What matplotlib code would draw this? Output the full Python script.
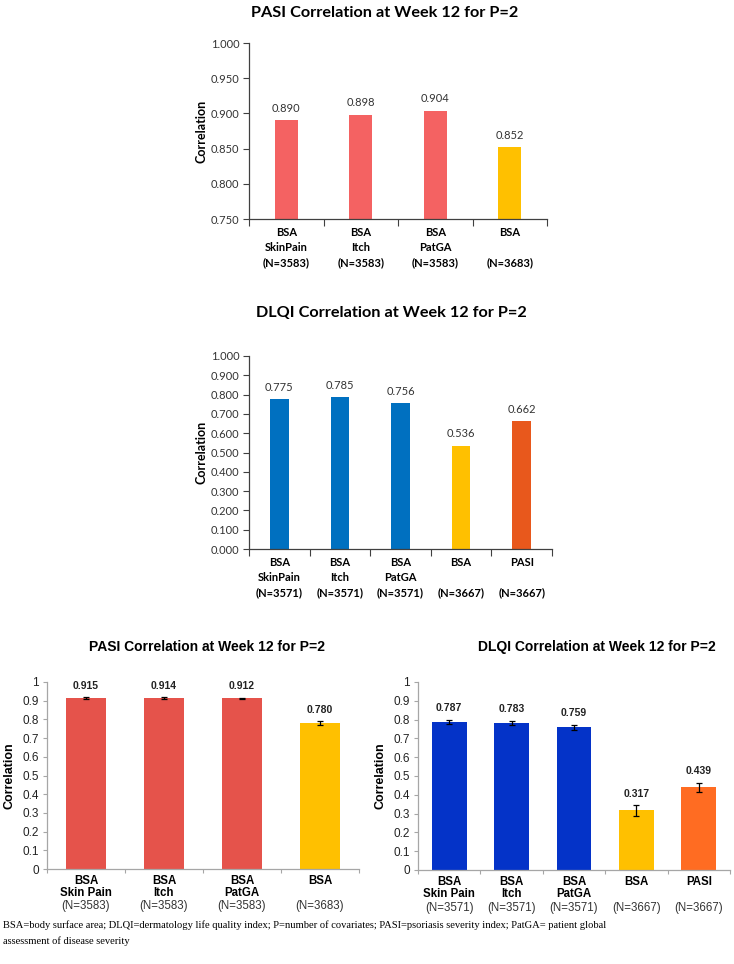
import numpy as np
import matplotlib
matplotlib.use("Agg")
import matplotlib.pyplot as plt
from matplotlib.ticker import FixedLocator, MultipleLocator, FormatStrFormatter

# panel 1: PASI correlation (top)
pasi1_labels = ["BSA\nSkinPain\n(N=3583)", "BSA\nItch\n(N=3583)", "BSA\nPatGA\n(N=3583)", "BSA\n\n(N=3683)"]
pasi1_vals = [0.890, 0.898, 0.904, 0.852]
pasi1_cols = ["#F46262", "#F46262", "#F46262", "#FFC000"]

# panel 2: DLQI correlation (top)
dlqi1_labels = ["BSA\nSkinPain\n(N=3571)", "BSA\nItch\n(N=3571)", "BSA\nPatGA\n(N=3571)",
                "BSA\n\n(N=3667)", "PASI\n\n(N=3667)"]
dlqi1_vals = [0.775, 0.785, 0.756, 0.536, 0.662]
dlqi1_cols = ["#0070C0", "#0070C0", "#0070C0", "#FFC000", "#E8581C"]

# panel 3: PASI correlation (bottom left)
pasi2_names = ["BSA\nSkin Pain", "BSA\nItch", "BSA\nPatGA", "BSA"]
pasi2_n = ["(N=3583)", "(N=3583)", "(N=3583)", "(N=3683)"]
pasi2_vals = [0.915, 0.914, 0.912, 0.780]
pasi2_err = [0.004, 0.004, 0.004, 0.011]
pasi2_cols = ["#E5534B", "#E5534B", "#E5534B", "#FFC000"]

# panel 4: DLQI correlation (bottom right)
dlqi2_names = ["BSA\nSkin Pain", "BSA\nItch", "BSA\nPatGA", "BSA", "PASI"]
dlqi2_n = ["(N=3571)", "(N=3571)", "(N=3571)", "(N=3667)", "(N=3667)"]
dlqi2_vals = [0.787, 0.783, 0.759, 0.317, 0.439]
dlqi2_err = [0.013, 0.012, 0.013, 0.028, 0.025]
dlqi2_cols = ["#0433C8", "#0433C8", "#0433C8", "#FFC000", "#FF6C22"]

yticks_bottom = [0, 0.1, 0.2, 0.3, 0.4, 0.5, 0.6, 0.7, 0.8, 0.9, 1]
ylabels_bottom = ["0", "0.1", "0.2", "0.3", "0.4", "0.5", "0.6", "0.7", "0.8", "0.9", "1"]

footnote = ("BSA=body surface area; DLQI=dermatology life quality index; P=number of covariates; "
            "PASI=psoriasis severity index; PatGA= patient global\nassessment of disease severity")

W, H = 734, 964
fig = plt.figure(figsize=(W / 100, H / 100), dpi=100)


def add_ax(l, t, r, b):
    return fig.add_axes([l / W, 1 - b / H, (r - l) / W, (b - t) / H])


def px2pt(p):
    return p * 72 / 100


def top_chart(ax, labels, vals, cols, ylim, step, title, tcx, tcy):
    x = np.arange(len(vals))
    ax.bar(x, np.array(vals) - ylim[0], bottom=ylim[0], width=0.31, color=cols)
    ax.set_xlim(-0.5, len(vals) - 0.5)
    ax.set_ylim(*ylim)
    for s in ["top", "right"]:
        ax.spines[s].set_visible(False)
    for s in ["left", "bottom"]:
        ax.spines[s].set_color("#404040")
        ax.spines[s].set_linewidth(0.9)
    ax.yaxis.set_major_locator(MultipleLocator(step))
    ax.yaxis.set_major_formatter(FormatStrFormatter("%.3f"))
    ax.tick_params(axis="y", direction="out", length=4, width=0.8, color="#404040",
                   labelsize=8, labelcolor="#333333", pad=3)
    ax.set_xticks(x)
    ax.set_xticklabels(labels, fontweight="bold", fontsize=8, linespacing=1.45)
    ax.tick_params(axis="x", which="major", length=0, pad=6)
    ax.xaxis.set_minor_locator(FixedLocator(np.arange(len(vals) + 1) - 0.5))
    ax.tick_params(axis="x", which="minor", direction="out", length=5, width=0.8, color="#404040")
    for xi, v in zip(x, vals):
        ax.annotate(f"{v:.3f}", (xi, v), xytext=(0, px2pt(12)), textcoords="offset points",
                    ha="center", va="center", fontsize=8, color="#333333")
    ax.set_ylabel("Correlation", fontweight="bold", fontsize=9, labelpad=2)
    fig.text(tcx / W, 1 - tcy / H, title, ha="center", va="center", fontsize=11.7,
             fontweight="bold", family="Lato")


def bottom_chart(ax, names, ns, vals, errs, cols, bw, title, tcx, tcy):
    x = np.arange(len(vals))
    ax.bar(x, vals, width=bw, color=cols)
    ax.errorbar(x, vals, yerr=errs, fmt="none", ecolor="black", elinewidth=0.9,
                capsize=2.5, capthick=0.9)
    ax.set_xlim(-0.5, len(vals) - 0.5)
    ax.set_ylim(0, 1)
    for s in ["top", "right"]:
        ax.spines[s].set_visible(False)
    for s in ["left", "bottom"]:
        ax.spines[s].set_color("#A6A6A6")
        ax.spines[s].set_linewidth(0.9)
    ax.set_yticks(yticks_bottom)
    ax.set_yticklabels(ylabels_bottom)
    ax.tick_params(axis="y", direction="out", length=3, width=0.8, color="#A6A6A6",
                   labelsize=8.5, labelcolor="#222222", pad=3)
    ax.set_xticks(x)
    ax.set_xticklabels(names, fontweight="bold", fontsize=8.3, linespacing=0.95, va="top")
    ax.tick_params(axis="x", which="major", length=0, pad=4.5)
    ax.xaxis.set_minor_locator(FixedLocator(np.arange(len(vals) + 1) - 0.5))
    ax.tick_params(axis="x", which="minor", direction="out", length=3, width=0.8, color="#A6A6A6")
    for xi, n in zip(x, ns):
        ax.annotate(n, (xi, 0), xycoords=ax.get_xaxis_transform(), xytext=(0, -px2pt(37.5)),
                    textcoords="offset points", ha="center", va="center", fontsize=8.3,
                    color="#333333")
    for xi, v, e in zip(x, vals, errs):
        ax.annotate(f"{v:.3f}", (xi, v + e), xytext=(0, px2pt(11.5)), textcoords="offset points",
                    ha="center", va="center", fontsize=7.5, fontweight="bold", color="#222222")
    ax.set_ylabel("Correlation", fontweight="bold", fontsize=9, labelpad=5)
    fig.text(tcx / W, 1 - tcy / H, title, ha="center", va="center", fontsize=10,
             fontweight="bold")


plt.rcParams["font.family"] = ["Lato", "DejaVu Sans"]
ax1 = add_ax(249, 43, 547, 219)
top_chart(ax1, pasi1_labels, pasi1_vals, pasi1_cols, (0.75, 1.0), 0.05,
          "PASI Correlation at Week 12 for P=2", 385, 13)
ax2 = add_ax(249, 356, 552, 549)
top_chart(ax2, dlqi1_labels, dlqi1_vals, dlqi1_cols, (0.0, 1.0), 0.1,
          "DLQI Correlation at Week 12 for P=2", 391, 313)

plt.rcParams["font.family"] = ["Liberation Sans", "DejaVu Sans"]
ax3 = add_ax(47, 682, 359, 869)
bottom_chart(ax3, pasi2_names, pasi2_n, pasi2_vals, pasi2_err, pasi2_cols, 0.52,
             "PASI Correlation at Week 12 for P=2", 207, 647)
ax4 = add_ax(418, 682, 730, 870)
bottom_chart(ax4, dlqi2_names, dlqi2_n, dlqi2_vals, dlqi2_err, dlqi2_cols, 0.56,
             "DLQI Correlation at Week 12 for P=2", 597, 647)

fig.text(3 / W, 1 - 920 / H, footnote, ha="left", va="top", fontsize=7.6,
         family="Liberation Serif", linespacing=1.85)

fig.savefig("out.png", dpi=100)
